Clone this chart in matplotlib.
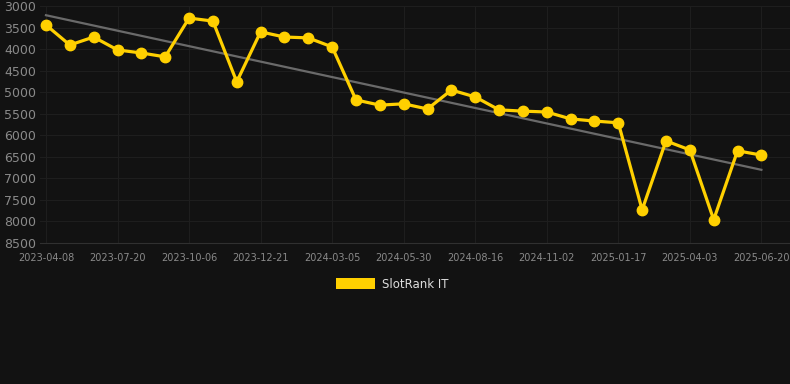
import matplotlib
matplotlib.use("Agg")
import matplotlib.pyplot as plt
import numpy as np
from matplotlib.patches import Rectangle

ranks = [3440, 3905, 3720, 4020, 4090, 4180, 3280, 3350, 4760, 3600, 3720,
         3740, 3950, 5180, 5300, 5270, 5390, 4950, 5110, 5410, 5440, 5460,
         5620, 5670, 5710, 7730, 6130, 6340, 7960, 6360, 6460]
tick_labels = ["2023-04-08", "2023-07-20", "2023-10-06", "2023-12-21",
               "2024-03-05", "2024-05-30", "2024-08-16", "2024-11-02",
               "2025-01-17", "2025-04-03", "2025-06-20"]
series_name = "SlotRank IT"
yticks = [3000, 3500, 4000, 4500, 5000, 5500, 6000, 6500, 7000, 7500, 8000, 8500]

bg = "#121212"
yellow = "#FFD000"
W, H = 790, 384
fig = plt.figure(figsize=(W / 100, H / 100), dpi=100, facecolor=bg)
ax = fig.add_axes([40 / W, (H - 243) / H, (790 - 40) / W, (243 - 6) / H])
ax.set_facecolor(bg)

x = np.arange(len(ranks))
coef = np.polyfit(x, ranks, 1)
ax.plot(x, np.polyval(coef, x), color="#6a6a6a", lw=1.6, zorder=2)
ax.plot(x, ranks, color=yellow, lw=2.3, marker="o", ms=7.5, zorder=3)

ax.set_ylim(8500, 3000)
ax.set_xlim(-0.25, 31.2)
ax.set_yticks(yticks)
ax.set_yticklabels([str(v) for v in yticks])
ax.set_xticks(x[::3])
ax.set_xticklabels(tick_labels)
ax.grid(True, color="#1e1e1e", lw=0.8)
ax.set_axisbelow(True)
for s in ["top", "right", "left"]:
    ax.spines[s].set_visible(False)
ax.spines["bottom"].set_color("#303030")
ax.tick_params(axis="y", length=0, colors="#8a8a8a", labelsize=9, pad=3)
ax.tick_params(axis="x", length=0, colors="#8a8a8a", labelsize=7, pad=7)

fig.patches.append(Rectangle((336 / W, (H - 289) / H), 39 / W, 11 / H,
                             transform=fig.transFigure, facecolor=yellow,
                             edgecolor="none"))
fig.text(382 / W, (H - 284.5) / H, series_name, color="#dddddd", fontsize=8.5,
         va="center", ha="left")

fig.savefig("out.png", dpi=100, facecolor=bg)
